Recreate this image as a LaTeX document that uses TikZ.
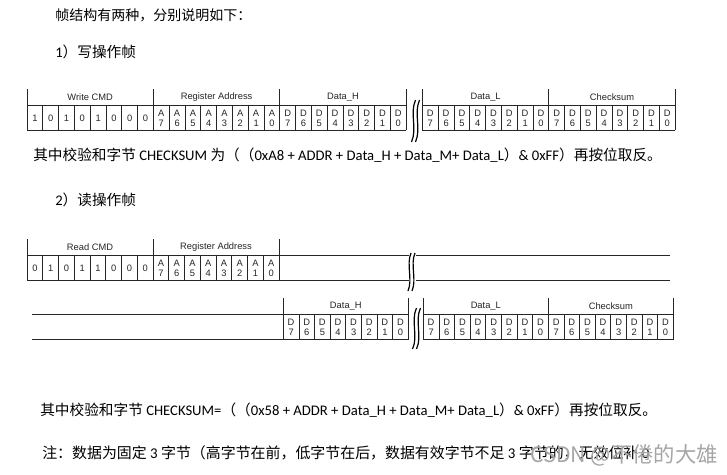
\documentclass[tikz,border=0pt]{standalone}
\usepackage{fontspec}
\setmainfont{Liberation Sans}
\newfontfamily\cjk{Noto Sans CJK SC}
\newfontfamily\calfont{Carlito}
\newcommand{\zh}[1]{{\cjk #1}}
\begin{document}
\begin{tikzpicture}[x=0.75pt,y=-0.75pt,
  tline/.style={line width=0.6pt, draw=black!85},
  wave/.style={line width=0.9pt, draw=black},
  hdr/.style={font=\fontsize{7}{8}\selectfont, text=black!85, inner sep=0},
  bit/.style={font=\fontsize{7}{7.6}\selectfont, text=black!85, align=center, inner sep=0},
  para/.style={anchor=west, inner sep=0, font=\fontsize{11}{13}\selectfont\calfont},
]
\useasboundingbox[fill=white] (0,0) rectangle (727,474);
\def\wa{15.8}
\def\wb{15.75}
\def\wc{15.625}
% ---------------- Table 1 (write frame) ----------------
\foreach \x in {27,153.4,279.8,406.2,422.4,548.8,675.2}
  \draw[tline] (\x,89) -- (\x,130.5);
\foreach \i in {1,...,23} \draw[tline] ({27+\i*\wa},105) -- ({27+\i*\wa},130.5);
\foreach \i in {1,...,15} \draw[tline] ({422.4+\i*\wa},105) -- ({422.4+\i*\wa},130.5);
\draw[tline] (27,105) -- (406.2,105) (27,130.5) -- (406.2,130.5);
\draw[tline] (422.4,105) -- (675.2,105) (422.4,130.5) -- (675.2,130.5);
\draw[wave] (415.5,100) .. controls (409.5,114) and (417.5,128) .. (411.5,142);
\draw[wave] (419.5,100) .. controls (413.5,114) and (421.5,128) .. (415.5,142);
\node[hdr] (t1wc) at ({27+4*\wa},97) {Write CMD};
\node[hdr] (t1ra) at ({27+12*\wa},97) {Register Address};
\node[hdr] (t1dh) at ({27+20*\wa},97) {Data\_H};
\node[hdr] (t1dl) at ({422.4+4*\wa},97) {Data\_L};
\node[hdr] (t1cs) at ({422.4+12*\wa},97) {Checksum};
\foreach \b [count=\i from 0] in {1,0,1,0,1,0,0,0}
  \node[bit] (t1b\i) at ({27+(\i+0.5)*\wa},118.5) {\b};
\foreach \k [count=\i from 8] in {7,6,5,4,3,2,1,0}
  \node[bit] (t1a\i) at ({27+(\i+0.5)*\wa},118.5) {A\\\k};
\foreach \k [count=\i from 16] in {7,6,5,4,3,2,1,0}
  \node[bit] (t1d\i) at ({27+(\i+0.5)*\wa},118.5) {D\\\k};
\foreach \k [count=\i from 0] in {7,6,5,4,3,2,1,0,7,6,5,4,3,2,1,0}
  \node[bit] (t1e\i) at ({422.4+(\i+0.5)*\wa},118.5) {D\\\k};
% ---------------- Table 2 row 1 (read frame) ----------------
\foreach \x in {27,153,279}
  \draw[tline] (\x,239) -- (\x,280.5);
\foreach \i in {1,...,15} \draw[tline] ({27+\i*\wb},255) -- ({27+\i*\wb},280.5);
\draw[tline] (27,255) -- (408.5,255) (27,280.5) -- (408.5,280.5);
\draw[tline] (415.5,255) -- (670,255) (415.5,280.5) -- (670,280.5);
\draw[wave] (411,253) .. controls (406,265) and (413,279) .. (408,291);
\draw[wave] (415,253) .. controls (410,265) and (417,279) .. (412,291);
\node[hdr] (t2rc) at ({27+4*\wb},247) {Read CMD};
\node[hdr] (t2ra) at ({27+12*\wb},247) {Register Address};
\foreach \b [count=\i from 0] in {0,1,0,1,1,0,0,0}
  \node[bit] (t2b\i) at ({27+(\i+0.5)*\wb},268.5) {\b};
\foreach \k [count=\i from 8] in {7,6,5,4,3,2,1,0}
  \node[bit] (t2a\i) at ({27+(\i+0.5)*\wb},268.5) {A\\\k};
% ---------------- Table 2 row 2 ----------------
\foreach \x in {283.3,408.3,423.3,548.3,673.3}
  \draw[tline] (\x,298) -- (\x,339.5);
\foreach \i in {1,...,7} \draw[tline] ({283.3+\i*\wc},314) -- ({283.3+\i*\wc},339.5);
\foreach \i in {1,...,15} \draw[tline] ({423.3+\i*\wc},314) -- ({423.3+\i*\wc},339.5);
\draw[tline] (32,314) -- (408.3,314) (32,339.5) -- (408.3,339.5);
\draw[tline] (423.3,314) -- (673.3,314) (423.3,339.5) -- (673.3,339.5);
\draw[wave] (416.5,308) .. controls (410.5,321) and (418.5,336) .. (412.5,349);
\draw[wave] (420.5,308) .. controls (414.5,321) and (422.5,336) .. (416.5,349);
\node[hdr] (t3dh) at ({283.3+4*\wc},306) {Data\_H};
\node[hdr] (t3dl) at ({423.3+4*\wc},306) {Data\_L};
\node[hdr] (t3cs) at ({423.3+12*\wc},306) {Checksum};
\foreach \k [count=\i from 0] in {7,6,5,4,3,2,1,0}
  \node[bit] (t3d\i) at ({283.3+(\i+0.5)*\wc},327) {D\\\k};
\foreach \k [count=\i from 0] in {7,6,5,4,3,2,1,0,7,6,5,4,3,2,1,0}
  \node[bit] (t3e\i) at ({423.3+(\i+0.5)*\wc},327) {D\\\k};
% ---------------- Texts ----------------
\node[para, font=\fontsize{10.5}{13}\selectfont\cjk] (title) at (55,15) {帧结构有两种，分别说明如下：};
\node[para] (h1) at (55,52) {1\zh{）写操作帧}};
\node[para] (cs1) at (33,155) {\zh{其中校验和字节} CHECKSUM \zh{为（（}0xA8 + ADDR + Data\_H + Data\_M+ Data\_L\zh{）}\& 0xFF\zh{）再按位取反。}};
\node[para] (h2) at (55,200) {2\zh{）读操作帧}};
\node[para] (cs2) at (40,410) {\zh{其中校验和字节} CHECKSUM=\zh{（（}0x58 + ADDR + Data\_H + Data\_M+ Data\_L\zh{）}\& 0xFF\zh{）再按位取反。}};
\node[para, font=\fontsize{11.2}{13}\selectfont\calfont] (note) at (42,453) {\zh{注：数据为固定} 3 \zh{字节（高字节在前，低字节在后，数据有效字节不足} 3 \zh{字节的，无效位补} 0};
\node[anchor=east, inner sep=0, text=black!35, font=\fontsize{16}{18}\selectfont\cjk] (wm) at (718,455) {CSDN @不倦的大雄};
\end{tikzpicture}
\end{document}
